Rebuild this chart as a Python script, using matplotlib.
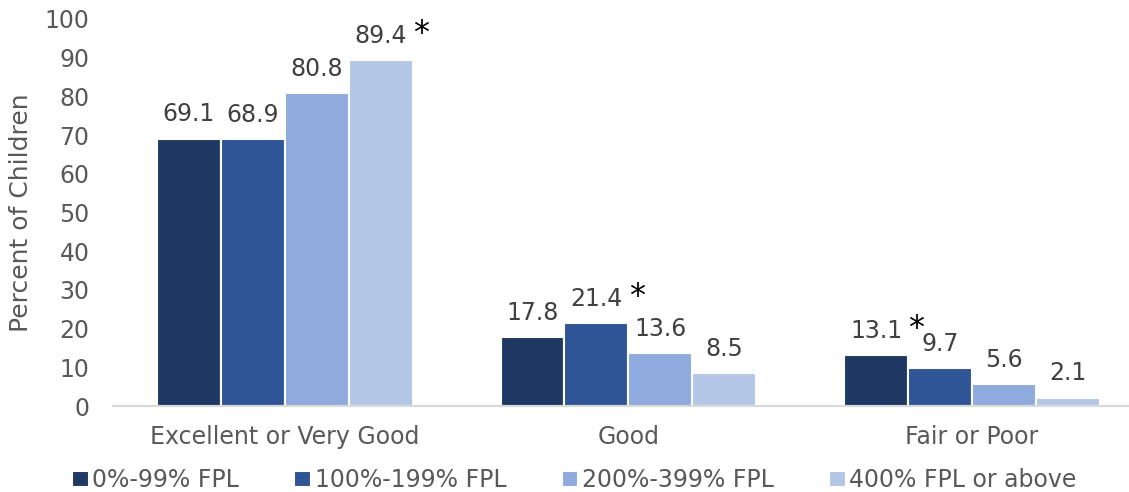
import numpy as np
import matplotlib
matplotlib.use("Agg")
import matplotlib.pyplot as plt

categories = ["Excellent or Very Good", "Good", "Fair or Poor"]
series = ["0%-99% FPL", "100%-199% FPL", "200%-399% FPL", "400% FPL or above"]
values = [
    [69.1, 17.8, 13.1],
    [68.9, 21.4, 9.7],
    [80.8, 13.6, 5.6],
    [89.4, 8.5, 2.1],
]
# asterisk flags (significant difference), same shape as values
starred = [
    [False, False, True],
    [False, True, False],
    [False, False, False],
    [True, False, False],
]
colors = ["#203864", "#2F5597", "#8FAADC", "#B4C7E7"]

plt.rcParams["font.family"] = ["DejaVu Sans"]
fig = plt.figure(figsize=(11.29, 4.92), dpi=100)
ax = fig.add_axes([113 / 1129, 1 - 406 / 492, 1 - 113 / 1129, (406 - 19) / 492])

x = np.arange(len(categories))
w = 0.186
for i, (name, vals) in enumerate(zip(series, values)):
    xs = x + (i - 1.5) * w
    bars = ax.bar(xs, vals, width=w, color=colors[i], edgecolor="white",
                  linewidth=1.5, label=name, zorder=2)
    for b, v, st in zip(bars, vals, starred[i]):
        cx = b.get_x() + b.get_width() / 2
        ax.annotate(f"{v:.1f}", (cx, v), xytext=(0, 9), textcoords="offset points",
                    ha="center", va="bottom", fontsize=17, color="#404040")
        if st:
            ax.annotate("*", (cx, v), xytext=(29, 13), textcoords="offset points",
                        ha="center", va="baseline", fontsize=23, color="black")

ax.set_ylim(0, 100)
ax.set_xlim(-0.5, 2.457)
ax.set_yticks(np.arange(0, 101, 10))
ax.set_xticks(x)
ax.set_xticklabels(categories)
ax.tick_params(axis="both", length=0, labelsize=17, colors="#595959")
ax.tick_params(axis="y", pad=17)
ax.tick_params(axis="x", pad=14)
for s in ["top", "right", "left"]:
    ax.spines[s].set_visible(False)
ax.spines["bottom"].set_color("#D9D9D9")
ax.spines["bottom"].set_linewidth(1.5)
ax.set_ylabel("Percent of Children", fontsize=18, color="#595959", labelpad=8)

leg = fig.legend(loc="center left", bbox_to_anchor=(0.045, 0.024), ncol=4, frameon=False,
                 fontsize=17, handlelength=0.7, handleheight=0.7, handletextpad=0.15,
                 columnspacing=2.35, labelcolor="#595959")

fig.savefig("out.png", dpi=100)
